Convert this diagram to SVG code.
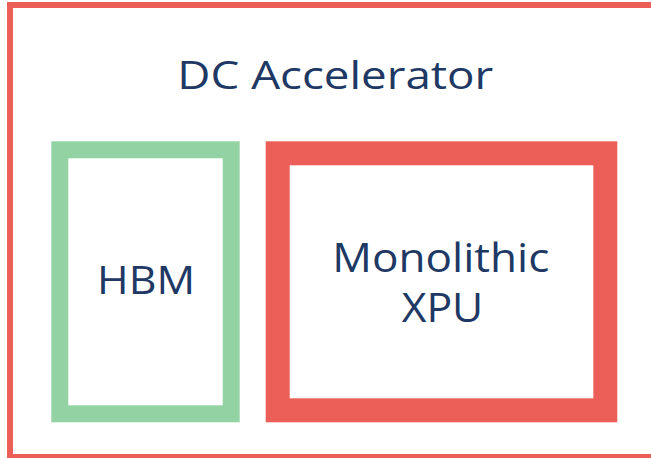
<svg xmlns="http://www.w3.org/2000/svg" width="651" height="458" viewBox="0 0 651 458">
  <style>
    .lbl { font-family: "Open Sans", "Liberation Sans", sans-serif; fill: #203864; text-anchor: middle; }
  </style>
  <rect width="651" height="458" fill="#ffffff"/>
  <g id="dc-accelerator">
    <rect x="10" y="5" width="650" height="452" fill="none" stroke="#EC5F59" stroke-width="6"/>
    <text class="lbl" x="335.3" y="89" font-size="37.4" textLength="316" lengthAdjust="spacingAndGlyphs">DC Accelerator</text>
  </g>
  <g id="hbm">
    <rect x="59.8" y="149.8" width="171.4" height="264" fill="none" stroke="#93D3A3" stroke-width="17"/>
    <text class="lbl" x="146" y="294" font-size="37.4" textLength="98" lengthAdjust="spacingAndGlyphs">HBM</text>
  </g>
  <g id="xpu">
    <rect x="277.7" y="153.3" width="327.6" height="257" fill="none" stroke="#EC5F59" stroke-width="24"/>
    <text class="lbl" x="440.8" y="272.3" font-size="40.4" textLength="217" lengthAdjust="spacingAndGlyphs">Monolithic</text>
    <text class="lbl" x="442.5" y="322.3" font-size="40.4" textLength="81.6" lengthAdjust="spacingAndGlyphs">XPU</text>
  </g>
  <g id="connectors"/>
</svg>
